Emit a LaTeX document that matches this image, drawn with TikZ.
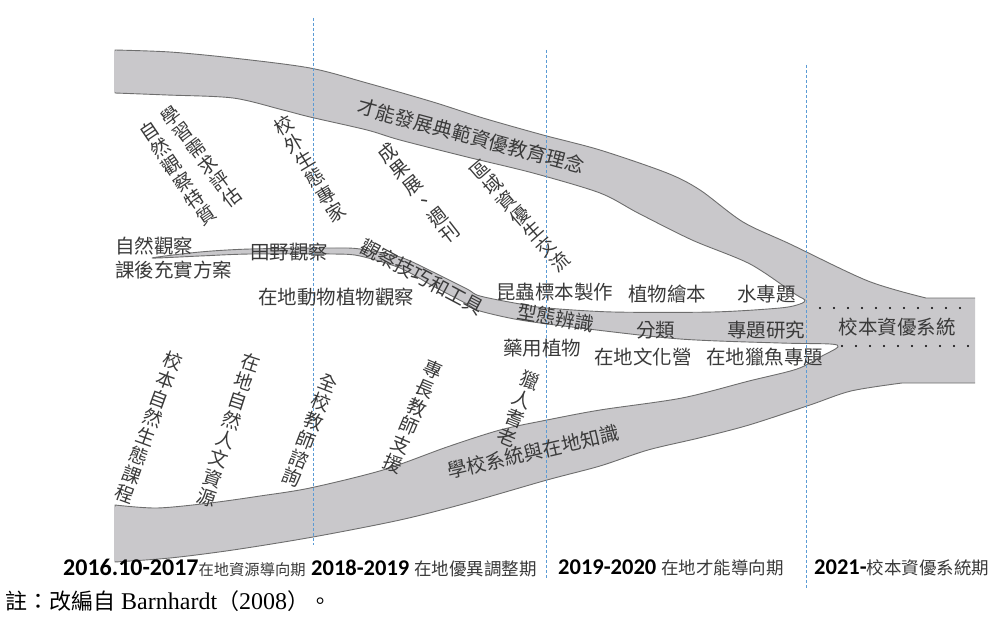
\documentclass[tikz,border=0pt]{standalone}
\usepackage{fontspec}
\setmainfont{Liberation Serif}
\newfontfamily\cjk{Noto Sans CJK TC}
\newfontfamily\carl{Carlito}
\definecolor{bandfill}{HTML}{C9C8CB}
\definecolor{bandline}{HTML}{6E6E6E}
\definecolor{guide}{HTML}{5B9BD5}
\definecolor{txt}{HTML}{3A3A3A}
\tikzset{
  lbl/.style={inner sep=0pt, text=txt, font=\cjk\fontsize{19.5}{19.5}\selectfont},
  col/.style={inner sep=0pt, text=txt, align=center, font=\cjk\fontsize{19}{20.3}\selectfont},
  guideline/.style={guide, line width=0.6pt, dash pattern=on 3pt off 2pt},
  dotrow/.style={black, line width=2.2pt, line cap=round, dash pattern=on 0pt off 14pt},
  band/.style={fill=bandfill, draw=bandline, line width=0.9pt, line join=round},
  tlabel/.style={inner sep=0pt, anchor=west, text=black},
}
\newcommand{\tlnum}[2][22.5]{{\carl\bfseries\fontsize{#1}{#1}\selectfont #2}}
\newcommand{\tlcjk}[2][17.5]{{\cjk\fontsize{#1}{#1}\selectfont\color{txt}#2}}
\begin{document}
\begin{tikzpicture}[x=1pt,y=-1pt]
\useasboundingbox (0,0) rectangle (1001,618);

% ---- gray bands (one merged shape) ----
\path[band] (975,383) -- plot[smooth] coordinates {(902,383) (851,391) (810,405) (749,425) (699,438) (648,450) (600,466) (547,480) (467,503) (400,520) (313,537) (233,550) (170,558) (115,562)}
 -- (115,505)
 -- plot[smooth] coordinates {(115,505) (157,508) (210,503) (260,496) (310,488) (383,470) (447,447) (500,430) (547,420) (600,410) (682,398) (749,381) (797,369) (822,356) (838,347) (830,344) (780,343) (680,339) (580,328) (520,320) (480,311) (467,304) (433,286) (400,268) (360,256) (333,254) (250,254) (200,256) (152,258) (200,252) (250,249) (333,248) (360,249) (400,257) (433,272) (467,289) (480,296) (520,304) (547,308) (613,312) (713,312) (780,308) (800,304) (805,300) (795,294) (750,264) (692,240) (638,213) (600,193) (533,173) (467,157) (400,140) (367,130) (310,117) (283,110) (233,98) (167,95) (115,93)}
 -- (115,50)
 -- plot[smooth] coordinates {(115,50) (170,52) (233,58) (310,68) (367,83) (433,102) (483,118) (543,135) (600,150) (667,173) (700,190) (743,222) (790,244) (868,281) (926,298)}
 -- (975,298);
\draw[bandfill, line width=1.4pt] (115,51.5) -- (115,91.5);
\draw[bandfill, line width=1.4pt] (115,506.5) -- (115,560.5);

% ---- period guides ----
\draw[guideline] (313,18) -- (313,545);
\draw[guideline] (546,50) -- (546,578);
\draw[guideline] (806,65) -- (806,588);

% ---- dotted rows ----
\draw[dotrow] (820,308) -- (972,308);
\draw[dotrow] (842,346) -- (972,346);

% ---- band labels ----
\node[lbl, rotate=-15] (top) at (471,136) {才能發展典範資優教育理念};
\node[lbl, rotate=13] (bot) at (533,452) {學校系統與在地知識};
\node[lbl] (sys) at (897,327) {校本資優系統};
\node[lbl, rotate=-28] (tool) at (422,277) {觀察技巧和工具};
\node[lbl, rotate=-10] (form) at (556,318) {型態辨識};

% ---- horizontal labels ----
\node[lbl, anchor=west] (a1) at (115,246) {自然觀察};
\node[lbl, anchor=west] (a2) at (115,270) {課後充實方案};
\node[lbl, anchor=west] (a3) at (250,252) {田野觀察};
\node[lbl, anchor=west] (a4) at (258,297) {在地動物植物觀察};
\node[lbl, anchor=west] (a5) at (496,292) {昆蟲標本製作};
\node[lbl, anchor=west] (a6) at (628,294) {植物繪本};
\node[lbl, anchor=west] (a7) at (737,294) {水專題};
\node[lbl, anchor=west] (a8) at (636,330) {分類};
\node[lbl, anchor=west] (a9) at (727,330) {專題研究};
\node[lbl, anchor=west] (a10) at (503,348) {藥用植物};
\node[lbl, anchor=west] (a11) at (594,357) {在地文化營};
\node[lbl, anchor=west] (a12) at (706,357) {在地獵魚專題};

% ---- tilted columns ----
\node[col, rotate=34] (c1) at (177.5,173.5) {自\\然\\觀\\察\\特\\質};
\node[col, rotate=37] (c2) at (201.5,156.5) {學\\習\\需\\求\\評\\估};
\node[col, rotate=31] (c3) at (310,169) {校\\外\\生\\態\\專\\家};
\node[col, rotate=38] (c4) at (418.5,193) {成\\果\\展\\、\\週\\刊};
\node[col, rotate=41] (c5) at (520,216) {區\\域\\資\\優\\生\\交\\流};
\node[col, rotate=-20] (c6) at (149,427.5) {校\\本\\自\\然\\生\\態\\課\\程};
\node[col, rotate=-18] (c7) at (228.5,430) {在\\地\\自\\然\\人\\文\\資\\源};
\node[col, rotate=-21] (c8) at (310,430.5) {全\\校\\教\\師\\諮\\詢};
\node[col, rotate=-23] (c9) at (413,416.5) {專\\長\\教\\師\\支\\援};
\node[col, rotate=-22] (c10) at (518.5,408.5) {獵\\人\\耆\\老};

% ---- timeline ----
\node[tlabel] (t1) at (63,568) {\tlnum[24]{2016.10-2017}\tlcjk[15.3]{在地資源導向期}};
\node[tlabel] (t2) at (311,568) {\tlnum{2018-2019 }\tlcjk{在地優異調整期}};
\node[tlabel] (t3) at (558,568) {\tlnum{2019-2020 }\tlcjk{在地才能導向期}};
\node[tlabel] (t4) at (814,568) {\tlnum{2021-}\tlcjk{校本資優系統期}};

% ---- note ----
\node[inner sep=0pt, anchor=west, text=black] (note) at (5,601) {{\cjk\fontsize{22}{22}\selectfont 註：改編自}\fontsize{24}{24}\selectfont\ Barnhardt{\cjk\fontsize{22}{22}\selectfont （}2008{\cjk\fontsize{22}{22}\selectfont ）。}};
\end{tikzpicture}
\end{document}
